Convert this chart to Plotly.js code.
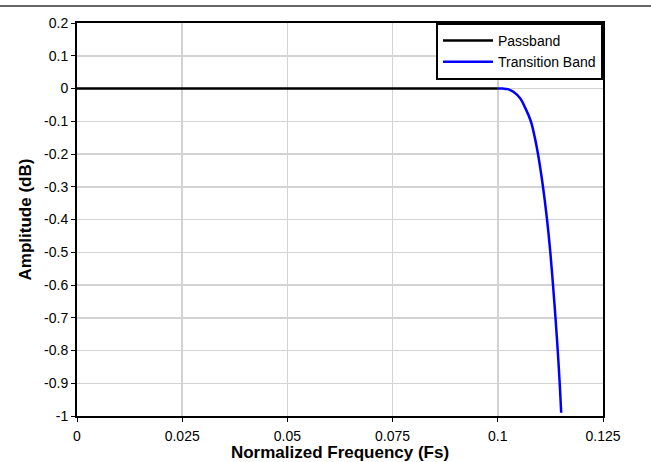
<!DOCTYPE html>
<html>
<head>
<meta charset="utf-8">
<script src="https://cdn.plot.ly/plotly-3.0.1.min.js"></script>
<style>html,body{margin:0;padding:0;background:#fff;}#chart{width:651px;height:462px;}</style>
</head>
<body>
<div id="chart"></div>
<script>
var passbandFreq = [0, 0.02, 0.04, 0.06, 0.08, 0.1];
var passbandAmp  = [0, 0, 0, 0, 0, 0];

var transFreq = [0.1, 0.1012, 0.1024, 0.1037, 0.1053, 0.10655, 0.10785, 0.1088, 0.10955, 0.11074, 0.1117, 0.11248, 0.11312, 0.11371, 0.11424, 0.11471, 0.11507];
var transAmp  = [0, -0.0003, -0.002, -0.01, -0.03, -0.06, -0.1, -0.15, -0.2, -0.3, -0.4, -0.5, -0.6, -0.7, -0.8, -0.9, -0.99];

var xTickVals = [0, 0.025, 0.05, 0.075, 0.1, 0.125];
var xTickText = ["0", "0.025", "0.05", "0.075", "0.1", "0.125"];
var yTickVals = [0.2, 0.1, 0, -0.1, -0.2, -0.3, -0.4, -0.5, -0.6, -0.7, -0.8, -0.9, -1];
var yTickText = ["0.2", "0.1", "0", "-0.1", "-0.2", "-0.3", "-0.4", "-0.5", "-0.6", "-0.7", "-0.8", "-0.9", "-1"];

var traces = [
  {x: passbandFreq, y: passbandAmp, type: 'scatter', mode: 'lines', name: 'Passband',
   line: {color: '#000000', width: 2.5}},
  {x: transFreq, y: transAmp, type: 'scatter', mode: 'lines', name: 'Transition Band',
   line: {color: '#0000ff', width: 2.5, shape: 'spline', smoothing: 1}}
];

var fam = 'Arial, "Liberation Sans", sans-serif';
var tickFont = {family: fam, size: 14, color: '#000'};
var titleFont = {family: fam, size: 17, color: '#000', weight: 'bold'};

var layout = {
  width: 651, height: 462,
  margin: {l: 77, r: 48, t: 23, b: 46},
  paper_bgcolor: '#fff', plot_bgcolor: '#fff',
  font: tickFont,
  showlegend: true,
  legend: {x: 1, y: 1, xanchor: 'right', yanchor: 'top', bgcolor: '#fff',
           bordercolor: '#000', borderwidth: 2,
           font: {family: fam, size: 14, color: '#000'},
           tracegroupgap: 0, itemwidth: 50},
  xaxis: {
    range: [0, 0.125], tickvals: xTickVals, ticktext: xTickText,
    showgrid: true, gridcolor: '#d3d3d3', gridwidth: 1.5,
    showline: true, linecolor: '#000', linewidth: 2, mirror: true,
    ticks: 'outside', ticklen: 4, tickcolor: '#000', tickwidth: 1,
    ticklabelstandoff: 2,
    zeroline: false,
    title: {text: 'Normalized Frequency (Fs)', font: titleFont, standoff: 0}
  },
  yaxis: {
    range: [-1, 0.2], tickvals: yTickVals, ticktext: yTickText,
    showgrid: true, gridcolor: '#d3d3d3', gridwidth: 1.5,
    showline: true, linecolor: '#000', linewidth: 2, mirror: true,
    ticks: 'outside', ticklen: 4, tickcolor: '#000', tickwidth: 1,
    zeroline: false,
    title: {text: 'Amplitude (dB)', font: titleFont, standoff: 8}
  },
  shapes: [
    {type: 'line', xref: 'paper', yref: 'paper', x0: -77/526, x1: (651-77)/526,
     y0: 1 + 17/393, y1: 1 + 17/393, line: {color: '#333', width: 1.5}}
  ]
};

Plotly.newPlot('chart', traces, layout, {displayModeBar: false, staticPlot: true});
</script>
</body>
</html>
